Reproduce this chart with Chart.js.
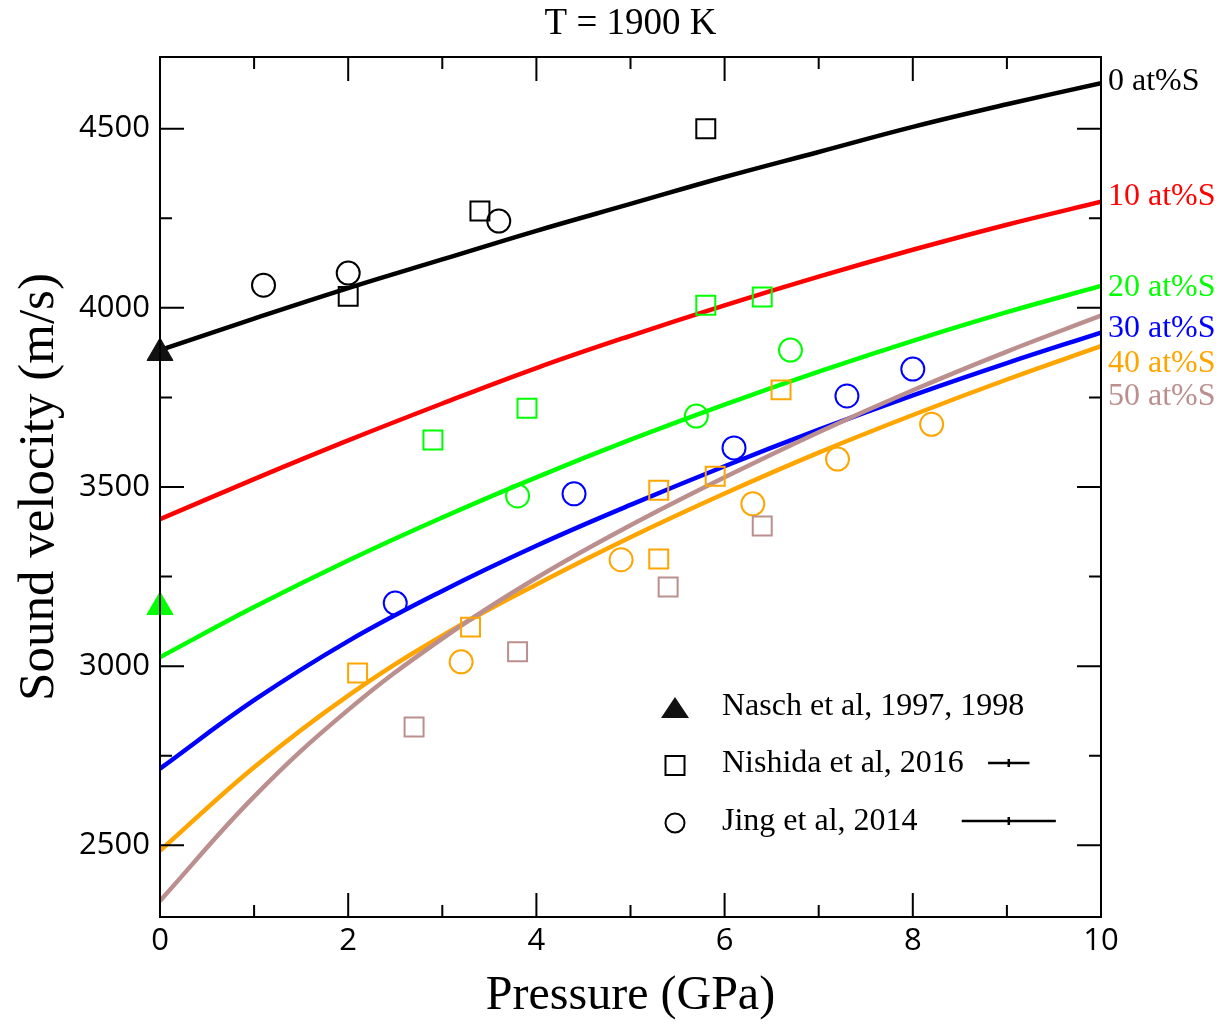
<!DOCTYPE html>
<html>
<head>
<meta charset="utf-8">
<script src="https://cdn.jsdelivr.net/npm/chart.js@4.4.1/dist/chart.umd.min.js"></script>
<style>
  html, body { margin: 0; padding: 0; background: #fff; }
  canvas { display: block; }
</style>
</head>
<body>
<canvas id="chart" width="1220" height="1025"></canvas>
<script>
// model curves, sampled every 1 GPa
const pressureGrid = [0, 1, 2, 3, 4, 5, 6, 7, 8, 9, 10];
const vel0 = [3882, 3970, 4055, 4135, 4215, 4290, 4365, 4435, 4505, 4568, 4627];
const vel10 = [3410, 3522, 3630, 3733, 3832, 3922, 4007, 4087, 4162, 4232, 4296];
const vel20 = [3025, 3165, 3295, 3415, 3527, 3632, 3730, 3822, 3908, 3988, 4061];
const vel30 = [2714, 2905, 3070, 3210, 3336, 3450, 3558, 3660, 3756, 3846, 3931];
const vel40 = [2485, 2718, 2918, 3085, 3228, 3360, 3482, 3596, 3701, 3800, 3893];
const vel50 = [2345, 2636, 2878, 3077, 3246, 3393, 3527, 3653, 3770, 3878, 3978];

const chartTitle = "T = 1900 K";
const curveLabels = ["0 at%S", "10 at%S", "20 at%S", "30 at%S", "40 at%S", "50 at%S"];
const curveLabelV = [4630, 4310, 4057, 3942, 3845, 3753];
const seriesColors = ["#000000", "#ff0000", "#00ff00", "#0000ff", "#ffa500", "#bc8f8f"];

// Nasch et al (triangles, P = 0)
const naschP = [0, 0];
const naschV = [3874, 3165];
const naschColors = ["#111111", "#00ff00"];

// Nishida et al 2016 (squares)
const nishida0P = [2.0, 3.4, 5.8];
const nishida0V = [4032, 4270, 4500];
const nishida20P = [2.9, 3.9, 5.8, 6.4];
const nishida20V = [3631, 3720, 4007, 4030];
const nishida40P = [2.1, 3.3, 5.3, 5.3, 5.9, 6.6];
const nishida40V = [2981, 3109, 3491, 3299, 3530, 3771];
const nishida50P = [2.7, 3.8, 5.4, 6.4];
const nishida50V = [2830, 3040, 3221, 3391];

// Jing et al 2014 (circles)
const jing0P = [1.1, 2.0, 3.6];
const jing0V = [4063, 4097, 4242];
const jing20P = [3.8, 5.7, 6.7];
const jing20V = [3475, 3698, 3882];
const jing30P = [2.5, 4.4, 6.1, 7.3, 8.0];
const jing30V = [3176, 3481, 3609, 3754, 3829];
const jing40P = [3.2, 4.9, 6.3, 7.2, 8.2];
const jing40V = [3012, 3297, 3453, 3578, 3675];

const legendLabels = ["Nasch et al, 1997, 1998", "Nishida et al, 2016", "Jing et al, 2014"];
const legendErrHalf = [0, 0.22, 0.5]; // GPa
const legendErrCenter = 9.02;

const serif = "'Liberation Serif', 'Times New Roman', serif";
const sans = "'Open Sans', 'Liberation Sans', sans-serif";

const pairs = (xs, ys) => xs.map((x, i) => ({ x, y: ys[i] }));

const curveValues = [vel0, vel10, vel20, vel30, vel40, vel50];
const curveSets = curveValues.map((vals, i) => ({
	label: curveLabels[i],
	data: pairs(pressureGrid, vals),
	showLine: true,
	borderColor: seriesColors[i],
	borderWidth: 4.5,
	pointRadius: 0,
	tension: 0.4,
	order: 6 - i,
}));

const squares = (xs, ys, color) => ({
	data: pairs(xs, ys),
	pointStyle: "rect",
	pointRadius: 13.4,
	borderColor: color,
	backgroundColor: "rgba(0,0,0,0)",
	borderWidth: 2,
	order: 0,
});

const circles = (xs, ys, color) => ({
	data: pairs(xs, ys),
	pointStyle: "circle",
	pointRadius: 11.5,
	borderColor: color,
	backgroundColor: "rgba(0,0,0,0)",
	borderWidth: 2,
	order: 0,
});

const pointSets = [
	squares(nishida0P, nishida0V, seriesColors[0]),
	squares(nishida20P, nishida20V, seriesColors[2]),
	squares(nishida40P, nishida40V, seriesColors[4]),
	squares(nishida50P, nishida50V, seriesColors[5]),
	circles(jing0P, jing0V, seriesColors[0]),
	circles(jing20P, jing20V, seriesColors[2]),
	circles(jing30P, jing30V, seriesColors[3]),
	circles(jing40P, jing40V, seriesColors[4]),
	{
		data: pairs(naschP, naschV),
		pointStyle: "triangle",
		pointRadius: 15,
		backgroundColor: naschColors,
		borderColor: naschColors,
		borderWidth: 1,
		clip: false,
		order: 0,
	},
];

// frame + inward ticks on all four sides
const frameTicks = {
	id: "frameTicks",
	afterDatasetsDraw(chart) {
		const { ctx, chartArea: a, scales: { x, y } } = chart;
		ctx.save();
		ctx.strokeStyle = "#000";
		ctx.lineWidth = 2;
		ctx.strokeRect(a.left, a.top, a.right - a.left, a.bottom - a.top);
		ctx.beginPath();
		x.ticks.forEach((t) => {
			const px = x.getPixelForValue(t.value);
			const len = t.value % 2 === 0 ? 24 : 12;
			ctx.moveTo(px, a.bottom);
			ctx.lineTo(px, a.bottom - len);
			ctx.moveTo(px, a.top);
			ctx.lineTo(px, a.top + len);
		});
		y.ticks.forEach((t) => {
			if (t.value % 250 !== 0) return;
			const py = y.getPixelForValue(t.value);
			const len = t.value % 500 === 0 ? 24 : 12;
			ctx.moveTo(a.left, py);
			ctx.lineTo(a.left + len, py);
			ctx.moveTo(a.right, py);
			ctx.lineTo(a.right - len, py);
		});
		ctx.stroke();
		ctx.restore();
	},
};

// title over the plot, curve names at the right edge and the inset legend
const annotations = {
	id: "annotations",
	afterDraw(chart) {
		const { ctx, chartArea: a, scales: { x, y } } = chart;
		ctx.save();
		ctx.textBaseline = "middle";
		ctx.textAlign = "center";
		ctx.fillStyle = "#000";
		ctx.font = "37px " + serif;
		ctx.fillText(chartTitle, (a.left + a.right) / 2, a.top - 33);

		ctx.textAlign = "left";
		ctx.font = "32px " + serif;
		curveLabels.forEach((label, i) => {
			ctx.fillStyle = seriesColors[i];
			ctx.fillText(label, a.right + 7, y.getPixelForValue(curveLabelV[i]));
		});

		const mx = a.left + 515;
		const tx = a.left + 562;
		const rows = [a.top + 650, a.top + 707, a.top + 765];
		ctx.font = "32px " + serif;
		ctx.fillStyle = "#000";
		legendLabels.forEach((label, i) => ctx.fillText(label, tx, rows[i]));

		ctx.strokeStyle = "#000";
		ctx.lineWidth = 2;
		// triangle
		ctx.fillStyle = "#111";
		ctx.beginPath();
		ctx.moveTo(mx, rows[0] - 10);
		ctx.lineTo(mx + 14, rows[0] + 11);
		ctx.lineTo(mx - 14, rows[0] + 11);
		ctx.closePath();
		ctx.fill();
		// square
		ctx.strokeRect(mx - 9.5, rows[1] - 8, 19, 19);
		// circle
		ctx.beginPath();
		ctx.arc(mx, rows[2] + 1, 9.5, 0, Math.PI * 2);
		ctx.stroke();

		// error bar samples
		ctx.lineWidth = 2.5;
		ctx.beginPath();
		[1, 2].forEach((i) => {
			const x0 = x.getPixelForValue(legendErrCenter - legendErrHalf[i]);
			const x1 = x.getPixelForValue(legendErrCenter + legendErrHalf[i]);
			const xc = x.getPixelForValue(legendErrCenter);
			const ry = rows[i] - 1;
			ctx.moveTo(x0, ry);
			ctx.lineTo(x1, ry);
			ctx.moveTo(xc, ry - 4);
			ctx.lineTo(xc, ry + 4);
		});
		ctx.stroke();
		ctx.restore();
	},
};

const options = {
	responsive: false,
	animation: false,
	events: [],
	layout: {
		padding: { top: 57, right: 119, bottom: 0, left: 0 },
	},
	plugins: {
		legend: { display: false },
		tooltip: { enabled: false },
		title: { display: false },
	},
	scales: {
		x: {
			type: "linear",
			min: 0,
			max: 10,
			grid: { display: false, drawTicks: false },
			border: { display: false },
			ticks: {
				stepSize: 1,
				autoSkip: false,
				maxRotation: 0,
				padding: 6,
				color: "#000",
				font: { family: sans, size: 31 },
				callback: (v) => (v % 2 === 0 ? v : ""),
			},
			title: {
				display: true,
				text: "Pressure (GPa)",
				color: "#000",
				font: { family: serif, size: 48 },
				padding: { top: 0, bottom: 0 },
			},
			afterFit(scale) {
				scale.height = 108;
				scale.paddingLeft = 0;
				scale.paddingRight = 0;
			},
		},
		y: {
			type: "linear",
			min: 2300,
			max: 4700,
			grid: { display: false, drawTicks: false },
			border: { display: false },
			ticks: {
				stepSize: 250,
				autoSkip: false,
				padding: 10,
				color: "#000",
				font: { family: sans, size: 31 },
				callback: (v) => (v % 500 === 0 ? v : ""),
			},
			title: {
				display: true,
				text: "Sound velocity (m/s)",
				color: "#000",
				font: { family: serif, size: 51 },
				padding: { top: 9, bottom: 0 },
			},
			afterFit(scale) {
				scale.width = 160;
				scale.paddingTop = 0;
				scale.paddingBottom = 0;
			},
		},
	},
};

new Chart(document.querySelector("#chart"), {
	type: "scatter",
	data: { datasets: [...pointSets, ...curveSets] },
	options,
	plugins: [frameTicks, annotations],
});
</script>
</body>
</html>
